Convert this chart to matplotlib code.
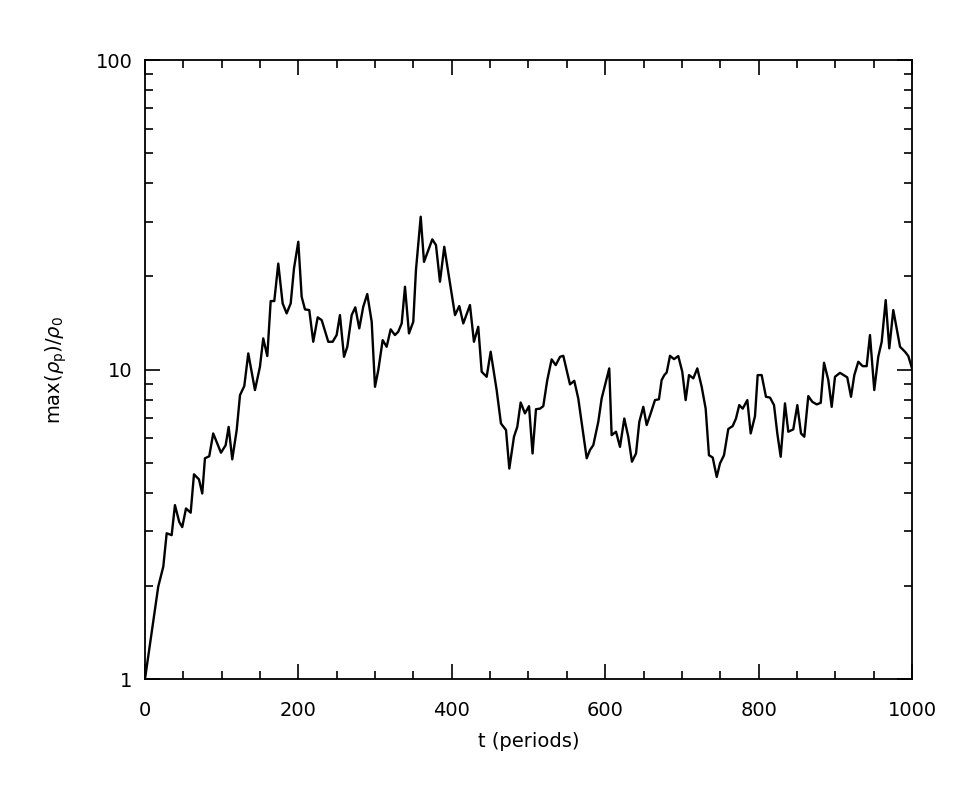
import numpy as np
import matplotlib.pyplot as plt
from matplotlib.ticker import MultipleLocator, FixedLocator, LogLocator, NullFormatter

# t (periods) and max(rho_p)/rho_0
t = [0, 17.3, 23.9, 28.3, 34.8, 39.1, 44.7, 48.6, 53.5, 59.6,
     63.9, 70.4, 74.7, 78.2, 83.8, 89.0, 99.1, 105.2, 109.1, 113.8,
     119.6, 123.9, 129.5, 134.7, 143.4, 149.9, 154.2, 159.5, 163.9, 168.6,
     173.8, 179.5, 184.7, 190.0, 194.3, 199.9, 204.3, 208.6, 214.2, 219.4,
     225.2, 230.4, 239.0, 244.7, 249.9, 254.2, 259.5, 263.8, 269.5, 274.2,
     279.4, 284.6, 289.8, 295.6, 299.9, 304.2, 309.9, 315.1, 320.3, 325.9,
     330.2, 334.7, 339.0, 344.2, 349.8, 353.3, 359.5, 363.8, 374.6, 379.4,
     384.6, 390.2, 397.7, 404.2, 409.8, 415.0, 423.7, 428.9, 434.5, 439.0,
     445.5, 450.7, 458.5, 464.1, 470.7, 475.0, 481.1, 485.4, 489.8, 495.4,
     500.7, 505.3, 509.8, 515.0, 519.3, 524.5, 530.2, 535.5, 541.1, 545.4,
     549.8, 554.1, 559.7, 564.9, 570.1, 575.9, 580.2, 584.5, 591.0, 595.4,
     605.3, 608.4, 614.1, 619.3, 624.9, 630.1, 634.9, 640.2, 644.5, 649.7,
     654.1, 659.3, 664.9, 670.1, 673.6, 677.1, 680.2, 684.5, 689.7, 695.3,
     700.5, 704.9, 709.3, 714.9, 720.1, 725.8, 731.0, 735.3, 740.2, 745.4,
     749.7, 754.9, 760.5, 766.2, 770.5, 774.8, 779.3, 785.3, 789.7, 795.3,
     798.8, 804.0, 809.6, 814.9, 820.1, 824.4, 828.8, 834.4, 838.7, 845.2,
     850.5, 855.3, 859.6, 864.8, 870.0, 875.8, 881.0, 885.3, 890.9, 895.3,
     899.6, 906.1, 915.6, 920.5, 924.8, 930.0, 935.7, 940.9, 945.2, 950.8,
     956.0, 960.5, 965.7, 970.4, 975.6, 984.4, 990.9, 995.2, 1000.0]
rho = [1.0, 1.99, 2.31, 2.96, 2.92, 3.65, 3.22, 3.10, 3.56, 3.45,
       4.59, 4.42, 3.98, 5.17, 5.25, 6.22, 5.39, 5.70, 6.53, 5.13,
       6.38, 8.27, 8.85, 11.28, 8.59, 10.21, 12.61, 11.06, 16.65, 16.65,
       22.0, 16.36, 15.19, 16.36, 21.23, 25.88, 17.19, 15.65, 15.57, 12.30,
       14.75, 14.45, 12.30, 12.30, 12.93, 15.0, 11.0, 11.85, 15.0, 15.89,
       13.59, 15.96, 17.54, 14.27, 8.80, 9.96, 12.45, 11.85, 13.49, 12.93,
       13.25, 14.10, 18.52, 13.09, 14.27, 20.97, 31.17, 22.29, 26.34, 25.24,
       19.22, 24.93, 18.99, 15.0, 16.04, 14.10, 16.16, 12.30, 13.75, 9.84,
       9.48, 11.42, 8.59, 6.70, 6.38, 4.79, 6.07, 6.53, 7.83, 7.22,
       7.62, 5.36, 7.45, 7.48, 7.62, 9.25, 10.79, 10.34, 11.0, 11.08,
       9.96, 8.96, 9.20, 8.07, 6.53, 5.17, 5.50, 5.70, 6.78, 8.07,
       10.09, 6.14, 6.30, 5.63, 6.95, 6.07, 5.04, 5.36, 6.78, 7.58,
       6.62, 7.22, 7.97, 8.02, 9.25, 9.60, 9.79, 11.08, 10.81, 11.06,
       9.84, 7.97, 9.60, 9.37, 10.09, 8.80, 7.48, 5.29, 5.20, 4.50,
       4.98, 5.29, 6.43, 6.57, 6.95, 7.68, 7.48, 7.97, 6.22, 7.07,
       9.60, 9.60, 8.17, 8.12, 7.68, 6.22, 5.23, 7.78, 6.30, 6.41,
       7.68, 6.22, 6.07, 8.21, 7.87, 7.72, 7.81, 10.52, 9.25, 7.58,
       9.48, 9.76, 9.44, 8.17, 9.60, 10.60, 10.26, 10.26, 12.93, 8.59,
       11.0, 12.30, 16.77, 11.71, 15.57, 11.85, 11.42, 11.06, 10.09]

x_ticks = [0, 200, 400, 600, 800, 1000]
y_ticks = [1, 10, 100]
y_labels = ['1', '10', '100']

plt.rcParams['font.family'] = ['DejaVu Sans']
fig = plt.figure(figsize=(9.6, 8), dpi=100)
ax = fig.add_axes([0.151, 0.151, 0.799, 0.774])

ax.plot(t, rho, color='black', linewidth=1.7)

ax.set_xlim(0, 1000)
ax.set_yscale('log')
ax.set_ylim(1, 100)

ax.xaxis.set_major_locator(FixedLocator(x_ticks))
ax.xaxis.set_minor_locator(MultipleLocator(50))
ax.set_xticklabels([str(v) for v in x_ticks])
ax.yaxis.set_major_locator(FixedLocator(y_ticks))
ax.yaxis.set_minor_locator(LogLocator(base=10, subs=np.arange(2, 10)))
ax.yaxis.set_minor_formatter(NullFormatter())
ax.set_yticklabels(y_labels)

ax.tick_params(which='both', direction='in', top=True, right=True,
               labelsize=14, width=1.2)
ax.tick_params(axis='x', which='both', pad=16)
ax.tick_params(axis='y', which='both', pad=9)
ax.tick_params(which='major', length=11)
ax.tick_params(which='minor', length=6)
for s in ax.spines.values():
    s.set_linewidth(1.3)

ax.set_xlabel('t (periods)', fontsize=14, labelpad=8)
ax.set_ylabel(r'max($\rho_{\rm p}$)/$\rho_0$', fontsize=14, labelpad=19)

fig.savefig('out.png', dpi=100)
